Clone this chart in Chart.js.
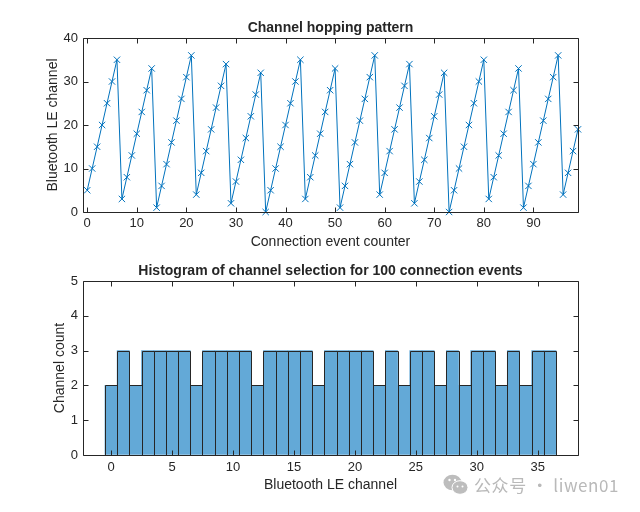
<!DOCTYPE html>
<html>
<head>
<meta charset="utf-8">
<script src="https://cdn.jsdelivr.net/npm/chart.js@4"></script>
<style>
  html, body { margin: 0; padding: 0; background: #fff; }
  #page { position: relative; width: 640px; height: 512px; overflow: hidden; }
  canvas { position: absolute; left: 0; }
  #topChart { top: 0; }
  #bottomChart { top: 256px; }
  #mark { position: absolute; left: 474px; top: 472px; font: 17px "Noto Sans CJK SC", sans-serif; color: #b9b9b9; letter-spacing: 0.6px; white-space: nowrap; }
  #icon { position: absolute; left: 443px; top: 474px; }
</style>
</head>
<body>
<div id="page">
  <canvas id="topChart"></canvas>
  <canvas id="bottomChart"></canvas>
  <svg id="icon" width="26" height="22" viewBox="0 0 26 22">
    <ellipse cx="9.5" cy="8.5" rx="9" ry="7.8" fill="#bdbdbd"/>
    <ellipse cx="17" cy="13.5" rx="8" ry="6.8" fill="#bdbdbd" stroke="#fff" stroke-width="1"/>
    <circle cx="6.5" cy="6" r="1.2" fill="#fff"/>
    <circle cx="12" cy="6" r="1.2" fill="#fff"/>
    <circle cx="14.5" cy="12.5" r="1" fill="#fff"/>
    <circle cx="19.5" cy="12.5" r="1" fill="#fff"/>
  </svg>
  <div id="mark">公众号 · liwen01</div>
</div>
<script>
const channels = [
  5, 10, 15, 20, 25, 30, 35, 3, 8, 13, 18, 23, 28, 33, 1, 6, 11, 16, 21, 26,
  31, 36, 4, 9, 14, 19, 24, 29, 34, 2, 7, 12, 17, 22, 27, 32, 0, 5, 10, 15,
  20, 25, 30, 35, 3, 8, 13, 18, 23, 28, 33, 1, 6, 11, 16, 21, 26, 31, 36, 4,
  9, 14, 19, 24, 29, 34, 2, 7, 12, 17, 22, 27, 32, 0, 5, 10, 15, 20, 25, 30,
  35, 3, 8, 13, 18, 23, 28, 33, 1, 6, 11, 16, 21, 26, 31, 36, 4, 9, 14, 19
];
const channelCounts = [
  2, 3, 2, 3, 3, 3, 3, 2, 3, 3, 3, 3, 2, 3, 3, 3, 3, 2, 3,
  3, 3, 3, 2, 3, 2, 3, 3, 2, 3, 2, 3, 3, 2, 3, 2, 3, 3
];
const topXTicks = [0, 10, 20, 30, 40, 50, 60, 70, 80, 90];
const topYTicks = [0, 10, 20, 30, 40];
const bottomXTicks = [0, 5, 10, 15, 20, 25, 30, 35];
const bottomYTicks = [0, 1, 2, 3, 4, 5];

const textColor = '#262626';
const tickFont = { family: '"Liberation Sans", Arial, sans-serif', size: 13 };
const labelFont = { family: '"Liberation Sans", Arial, sans-serif', size: 14 };
const titleFont = { family: '"Liberation Sans", Arial, sans-serif', size: 14, weight: 'bold', lineHeight: 1.2 };

// matlab style box with inward ticks on all four sides, title centred over the plot
const boxTicks = {
  id: 'boxTicks',
  afterLayout(chart) {
    const a = chart.chartArea, t = chart.titleBlock;
    t.left = a.left;
    t.right = a.right;
    t.width = a.right - a.left;
  },
  afterDatasetsDraw(chart) {
    const { ctx, chartArea: a, scales } = chart;
    const l = Math.round(a.left) + 0.5, r = Math.round(a.right) + 0.5;
    const t = Math.round(a.top) + 0.5, b = Math.round(a.bottom) + 0.5;
    ctx.save();
    ctx.strokeStyle = textColor;
    ctx.lineWidth = 1;
    ctx.beginPath();
    // crisp outline for the histogram bars, taken from the bar elements
    if (chart.config.type === 'bar') {
      chart.getDatasetMeta(0).data.forEach(bar => {
        const x0 = Math.round(bar.x - bar.width / 2) + 0.5;
        const x1 = Math.round(bar.x + bar.width / 2) + 0.5;
        const y0 = Math.round(bar.y) + 0.5;
        ctx.rect(x0, y0, x1 - x0, b - y0);
      });
    }
    ctx.rect(l, t, r - l, b - t);
    scales.x.ticks.forEach(tick => {
      const x = Math.round(scales.x.getPixelForValue(tick.value)) + 0.5;
      ctx.moveTo(x, b); ctx.lineTo(x, b - 5);
      ctx.moveTo(x, t); ctx.lineTo(x, t + 5);
    });
    scales.y.ticks.forEach(tick => {
      const y = Math.round(scales.y.getPixelForValue(tick.value)) + 0.5;
      ctx.moveTo(l, y); ctx.lineTo(l + 5, y);
      ctx.moveTo(r, y); ctx.lineTo(r - 5, y);
    });
    ctx.stroke();
    ctx.restore();
  }
};

function axis(min, max, tickValues, label, titlePadding, size, horizontal, tickPadding) {
  return {
    type: 'linear',
    min: min,
    max: max,
    bounds: 'data',
    offset: false,
    afterBuildTicks: s => { s.ticks = tickValues.map(v => ({ value: v })); },
    afterFit: s => { if (horizontal) s.height = size; else s.width = size; },
    grid: { drawOnChartArea: false, drawTicks: false, offset: false },
    border: { display: false },
    ticks: { color: textColor, font: tickFont, padding: tickPadding, maxRotation: 0, autoSkip: false },
    title: { display: true, text: label, color: textColor, font: labelFont, padding: titlePadding }
  };
}

function baseOptions(title, titlePad) {
  return {
    responsive: false,
    animation: false,
    layout: { padding: { left: 0, right: 62, top: 0, bottom: 0 } },
    plugins: {
      legend: { display: false },
      tooltip: { enabled: false },
      title: { display: true, text: title, color: textColor, font: titleFont, padding: titlePad }
    }
  };
}

function setSize(id) {
  const c = document.getElementById(id);
  c.width = 640;
  c.height = 256;
  return c;
}

new Chart(setSize('topChart'), {
  type: 'line',
  data: {
    datasets: [{
      data: channels.map((c, i) => ({ x: i, y: c })),
      borderColor: '#0072BD',
      borderWidth: 1,
      tension: 0,
      clip: false,
      pointStyle: 'crossRot',
      pointRadius: 4.5,
      pointBorderColor: '#0072BD',
      pointBorderWidth: 1,
      pointBackgroundColor: 'transparent'
    }]
  },
  options: Object.assign(baseOptions('Channel hopping pattern', { top: 19.5, bottom: 1.7 }), {
    scales: {
      x: axis(-0.85, 99, topXTicks, 'Connection event counter', { top: 0, bottom: 5 }, 44, true, 4),
      y: axis(0, 40, topYTicks, 'Bluetooth LE channel', { top: 45, bottom: 0 }, 83, false, 5)
    }
  }),
  plugins: [boxTicks]
});

new Chart(setSize('bottomChart'), {
  type: 'bar',
  data: {
    datasets: [{
      data: channelCounts.map((c, i) => ({ x: i, y: c })),
      backgroundColor: '#63A9D7',
      borderWidth: 0,
      barPercentage: 1,
      categoryPercentage: 1
    }]
  },
  options: Object.assign(baseOptions('Histogram of channel selection for 100 connection events', { top: 7, bottom: 1.2 }), {
    scales: {
      x: axis(-2.3, 38.3, bottomXTicks, 'Bluetooth LE channel', { top: 0, bottom: 18 }, 57, true, 5),
      y: axis(0, 5, bottomYTicks, 'Channel count', { top: 52, bottom: 0 }, 83, false, 5)
    }
  }),
  plugins: [boxTicks]
});
</script>
</body>
</html>
